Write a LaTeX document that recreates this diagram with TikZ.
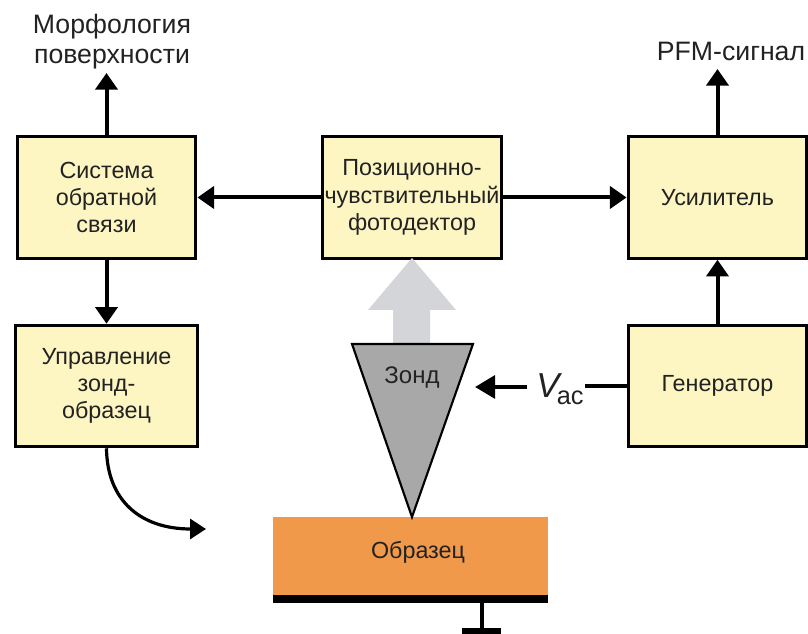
\documentclass[tikz,border=0pt]{standalone}
\usepackage{fontspec}
\setmainfont{Liberation Sans}
\usetikzlibrary{arrows.meta}
\definecolor{boxfill}{HTML}{FDF6C3}
\definecolor{txt}{HTML}{222222}
\definecolor{sample}{HTML}{F0994A}
\definecolor{probe}{HTML}{A8A8A8}
\definecolor{beam}{HTML}{D3D5D9}
\tikzset{
  blk/.style={draw=black, line width=2.4pt, fill=boxfill, text=txt, align=center,
    minimum width=134pt, minimum height=91pt, inner sep=0pt,
    font=\fontsize{17.5}{20.5}\selectfont},
  lbl/.style={text=txt, align=center, inner sep=0pt, font=\fontsize{20}{22.5}\selectfont},
  conn/.style={line width=3pt, -{Triangle[width=16.5pt,length=12.5pt]}},
  plain/.style={line width=3pt},
}
\begin{document}
\begin{tikzpicture}[x=0.75pt,y=-0.75pt]
\useasboundingbox (0,0) rectangle (808,634);
% boxes
\node[blk] (fb) at (106.5,197.5) {Система\\обратной\\связи};
\node[blk] (pd) at (412,197.5) {Позиционно-\\чувствительный\\фотодектор};
\node[blk] (amp) at (717.5,197.5) {Усилитель};
\node[blk, minimum width=136pt] (ctl) at (106.5,386) {Управление\\зонд-\\образец};
\node[blk] (gen) at (717.5,386) {Генератор};
% top labels
\node[lbl] (morph) at (112,42) {Морфология\\поверхности};
\node[lbl] (pfm) at (731,51) {PFM-сигнал};
\coordinate (morphtip) at (106.5,73);
\coordinate (pfmtip) at (717.5,69);
% connectors
\draw[conn] (fb.north) -- (morphtip);
\draw[conn] (amp.north) -- (pfmtip);
\draw[conn] (pd.west) -- (fb.east);
\draw[conn] (pd.east) -- (amp.west);
\draw[conn] (fb.south) -- (ctl.north);
\draw[conn] (gen.north) -- (amp.south);
% curved arrow to sample
\coordinate (curvetip) at (206,529);
\draw[line width=2.4pt, -{Triangle[width=15pt,length=12pt]}] (ctl.south) .. controls (107,500) and (140,529) .. (curvetip);
% sample
\fill[sample] (273,517) rectangle (548,595);
\node[text=txt, font=\fontsize{17.5}{20}\selectfont, inner sep=0pt] (smp) at (418,552) {Образец};
\fill[black] (273,595) rectangle (548,603);
% ground
\coordinate (gtop) at (482,603);
\coordinate (gbot) at (482,631);
\draw[line width=3pt] (gtop) -- (gbot);
\fill[black] (462,628) rectangle (501,640);
% light beam arrow
\fill[beam] (393,345) -- (393,310) -- (368,310) -- (412,258) -- (456,310) -- (430,310) -- (430,345) -- cycle;
% probe
\draw[line width=1.6pt, fill=probe] (352,344) -- (473,344) -- (412,517) -- cycle;
\node[text=txt, font=\fontsize{18}{20}\selectfont, inner sep=0pt] (zond) at (412,378) {Зонд};
% Vac
\node[text=txt, inner sep=1pt, anchor=center] (vac) at (560,389)
  {\fontsize{26}{26}\selectfont\itshape V\kern-2pt\raisebox{-5.5pt}{\upshape\fontsize{19}{19}\selectfont ac}};
\coordinate (vactip) at (475,387);
\draw[line width=3pt, -{Triangle[width=17pt,length=15pt]}] (527,387) -- (vactip);
\draw[plain] (vac.east |- gen.west) -- (gen.west);
\end{tikzpicture}
\end{document}
